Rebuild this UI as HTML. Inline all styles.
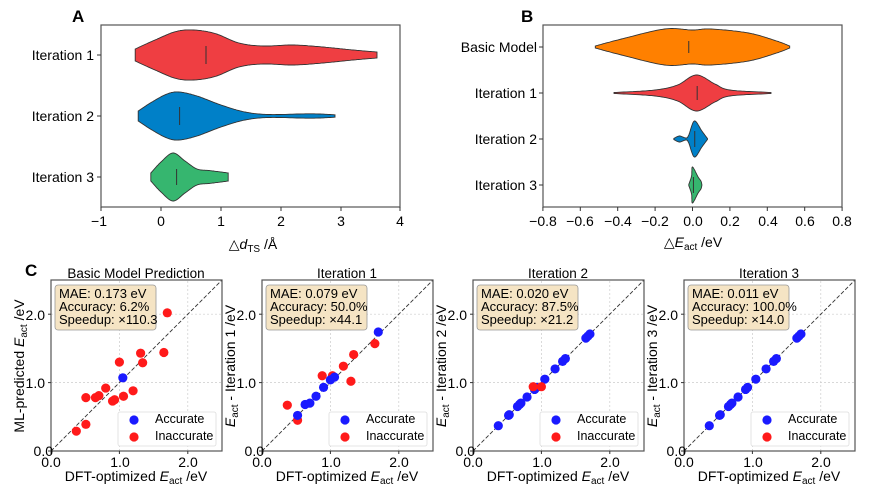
<!DOCTYPE html>
<html><head><meta charset="utf-8"><style>
html,body{margin:0;padding:0;background:#fff;}
svg{display:block;font-family:"Liberation Sans",Arial,sans-serif;}
</style></head><body>
<svg id="s" width="879" height="501" viewBox="0 0 879 501" xmlns="http://www.w3.org/2000/svg">
<g id="shapes"></g>
<rect x="101" y="25" width="299" height="182" fill="none" stroke="#555" stroke-width="1.2"/>
<text x="72" y="22" font-size="17" font-weight="bold">A</text>
<g font-size="14" text-anchor="end">
<text x="94" y="60">Iteration 1</text>
<text x="94" y="121">Iteration 2</text>
<text x="94" y="182">Iteration 3</text>
</g>
<g stroke="#333"><line x1="97" y1="55" x2="101" y2="55"/><line x1="97" y1="116" x2="101" y2="116"/><line x1="97" y1="177" x2="101" y2="177"/>
<line x1="101" y1="207" x2="101" y2="211"/><line x1="161" y1="207" x2="161" y2="211"/><line x1="221" y1="207" x2="221" y2="211"/><line x1="281" y1="207" x2="281" y2="211"/><line x1="341" y1="207" x2="341" y2="211"/><line x1="400" y1="207" x2="400" y2="211"/></g>
<g font-size="14" text-anchor="middle">
<text x="99" y="226">−1</text><text x="161" y="226">0</text><text x="221" y="226">1</text><text x="281" y="226">2</text><text x="341" y="226">3</text><text x="400" y="226">4</text>
<text x="253" y="249">△<tspan font-style="italic">d</tspan><tspan font-size="10" dy="3">TS</tspan><tspan dy="-3"> /Å</tspan></text>
</g>
<rect x="543" y="25" width="299" height="182" fill="none" stroke="#555" stroke-width="1.2"/>
<text x="521" y="22" font-size="17" font-weight="bold">B</text>
<g font-size="14" text-anchor="end">
<text x="537" y="52">Basic Model</text>
<text x="537" y="98">Iteration 1</text>
<text x="537" y="144">Iteration 2</text>
<text x="537" y="190">Iteration 3</text>
</g>
<g stroke="#333"><line x1="539" y1="47" x2="543" y2="47"/><line x1="539" y1="93" x2="543" y2="93"/><line x1="539" y1="139" x2="543" y2="139"/><line x1="539" y1="185" x2="543" y2="185"/></g>
<g id="btick" stroke="#333"></g>
<g font-size="14" text-anchor="middle">
<text x="543" y="226">−0.8</text><text x="580" y="226">−0.6</text><text x="618" y="226">−0.4</text><text x="655" y="226">−0.2</text><text x="693" y="226">0.0</text><text x="730" y="226">0.2</text><text x="768" y="226">0.4</text><text x="805" y="226">0.6</text><text x="842" y="226">0.8</text>
<text x="693" y="247">△<tspan font-style="italic">E</tspan><tspan font-size="10" dy="3">act</tspan><tspan dy="-3"> /eV</tspan></text>
</g>
<text x="25" y="276" font-size="17" font-weight="bold">C</text>
<g font-size="13.5" text-anchor="middle">
<text x="136" y="278">Basic Model Prediction</text>
<text x="347" y="278">Iteration 1</text>
<text x="558" y="278">Iteration 2</text>
<text x="769" y="278">Iteration 3</text>
</g>
<g id="cpanels"></g>
<g font-size="14" text-anchor="middle">
<text x="136" y="481">DFT-optimized <tspan font-style="italic">E</tspan><tspan font-size="10" dy="3">act</tspan><tspan dy="-3"> /eV</tspan></text>
<text x="347" y="481">DFT-optimized <tspan font-style="italic">E</tspan><tspan font-size="10" dy="3">act</tspan><tspan dy="-3"> /eV</tspan></text>
<text x="558" y="481">DFT-optimized <tspan font-style="italic">E</tspan><tspan font-size="10" dy="3">act</tspan><tspan dy="-3"> /eV</tspan></text>
<text x="769" y="481">DFT-optimized <tspan font-style="italic">E</tspan><tspan font-size="10" dy="3">act</tspan><tspan dy="-3"> /eV</tspan></text>
</g>
<g font-size="14" text-anchor="middle">
<text transform="translate(24,366) rotate(-90)">ML-predicted <tspan font-style="italic">E</tspan><tspan font-size="10" dy="3">act</tspan><tspan dy="-3"> /eV</tspan></text>
<text transform="translate(235,366) rotate(-90)"><tspan font-style="italic">E</tspan><tspan font-size="10" dy="3">act</tspan><tspan dy="-3"> - Iteration 1 /eV</tspan></text>
<text transform="translate(446,366) rotate(-90)"><tspan font-style="italic">E</tspan><tspan font-size="10" dy="3">act</tspan><tspan dy="-3"> - Iteration 2 /eV</tspan></text>
<text transform="translate(657,366) rotate(-90)"><tspan font-style="italic">E</tspan><tspan font-size="10" dy="3">act</tspan><tspan dy="-3"> - Iteration 3 /eV</tspan></text>
</g>
<g font-size="13">
<g transform="translate(51,0)"><text x="8" y="298">MAE: 0.173 eV</text><text x="8" y="311">Accuracy: 6.2%</text><text x="8" y="324">Speedup: ×110.3</text></g>
<g transform="translate(262,0)"><text x="8" y="298">MAE: 0.079 eV</text><text x="8" y="311">Accuracy: 50.0%</text><text x="8" y="324">Speedup: ×44.1</text></g>
<g transform="translate(473,0)"><text x="8" y="298">MAE: 0.020 eV</text><text x="8" y="311">Accuracy: 87.5%</text><text x="8" y="324">Speedup: ×21.2</text></g>
<g transform="translate(684,0)"><text x="8" y="298">MAE: 0.011 eV</text><text x="8" y="311">Accuracy: 100.0%</text><text x="8" y="324">Speedup: ×14.0</text></g>
</g>
<g font-size="14">
<g transform="translate(51,0)"><text x="-6" y="388" text-anchor="end">1.0</text><text x="-6" y="320" text-anchor="end">2.0</text><text x="2" y="456" text-anchor="end">0.0</text><text x="0" y="467" text-anchor="middle">0.0</text><text x="69" y="467" text-anchor="middle">1.0</text><text x="137" y="467" text-anchor="middle">2.0</text></g>
<g transform="translate(262,0)"><text x="-6" y="388" text-anchor="end">1.0</text><text x="-6" y="320" text-anchor="end">2.0</text><text x="2" y="456" text-anchor="end">0.0</text><text x="0" y="467" text-anchor="middle">0.0</text><text x="69" y="467" text-anchor="middle">1.0</text><text x="137" y="467" text-anchor="middle">2.0</text></g>
<g transform="translate(473,0)"><text x="-6" y="388" text-anchor="end">1.0</text><text x="-6" y="320" text-anchor="end">2.0</text><text x="2" y="456" text-anchor="end">0.0</text><text x="0" y="467" text-anchor="middle">0.0</text><text x="69" y="467" text-anchor="middle">1.0</text><text x="137" y="467" text-anchor="middle">2.0</text></g>
<g transform="translate(684,0)"><text x="-6" y="388" text-anchor="end">1.0</text><text x="-6" y="320" text-anchor="end">2.0</text><text x="2" y="456" text-anchor="end">0.0</text><text x="0" y="467" text-anchor="middle">0.0</text><text x="69" y="467" text-anchor="middle">1.0</text><text x="137" y="467" text-anchor="middle">2.0</text></g>
</g>
<g font-size="12.5">
<g transform="translate(51,0)"><text x="104" y="423">Accurate</text><text x="104" y="440">Inaccurate</text></g>
<g transform="translate(262,0)"><text x="104" y="423">Accurate</text><text x="104" y="440">Inaccurate</text></g>
<g transform="translate(473,0)"><text x="104" y="423">Accurate</text><text x="104" y="440">Inaccurate</text></g>
<g transform="translate(684,0)"><text x="104" y="423">Accurate</text><text x="104" y="440">Inaccurate</text></g>
</g>
</svg>
<script>
var NS="http://www.w3.org/2000/svg";
function el(p,t,a){var e=document.createElementNS(NS,t);for(var k in a)e.setAttribute(k,a[k]);if(p.firstChild&&a._first){p.insertBefore(e,p.firstChild);}else p.appendChild(e);return e;}
var sh=document.getElementById("shapes");
function cr(p0,p1,p2,p3,t){var t2=t*t,t3=t2*t;return 0.5*((2*p1)+(-p0+p2)*t+(2*p0-5*p1+4*p2-p3)*t2+(-p0+3*p1-3*p2+p3)*t3);}
function sample(prof){var n=prof.length,out=[];for(var i=0;i<n-1;i++){var a=prof[Math.max(i-1,0)],b=prof[i],c=prof[i+1],d=prof[Math.min(i+2,n-1)];
for(var s=0;s<20;s++){var t=s/20;out.push([cr(a[0],b[0],c[0],d[0],t),Math.max(0.3,cr(a[1],b[1],c[1],d[1],t))]);}}out.push(prof[n-1]);return out;}
function violin(prof,cy,x0,sc,fill){var pts=sample(prof),top=[],bot=[];
pts.forEach(function(p){var px=x0+p[0]*sc;top.push(px.toFixed(1)+","+(cy-p[1]).toFixed(1));bot.unshift(px.toFixed(1)+","+(cy+p[1]).toFixed(1));});
el(sh,"path",{d:"M"+top.join("L")+"L"+bot.join("L")+"Z",fill:fill,stroke:"#333","stroke-width":"0.9"});}
function med(x,cy,h){el(sh,"line",{x1:x,x2:x,y1:cy-h,y2:cy+h,stroke:"#333","stroke-width":"1"});}
violin([[-0.43,6],[-0.1,15],[0.25,23.5],[0.55,25],[0.9,21.5],[1.3,12],[1.7,9],[2.2,10],[2.7,8],[3.2,5],[3.6,3]],55,161,60,"#ef3e42");
med(161+0.75*60,55,9);
violin([[-0.38,5],[-0.15,14],[0.1,22],[0.3,24],[0.6,20],[1.0,11],[1.4,4],[1.8,1.5],[2.5,2.2],[2.9,1.2]],116,161,60,"#0080c8");
med(161+0.31*60,116,9);
violin([[-0.17,4],[0,15],[0.2,24],[0.4,16],[0.6,8],[0.8,6.5],[1.0,5],[1.12,4]],177,161,60,"#36b66f");
med(161+0.26*60,177,8);
var B0=692.5,BS=187;
violin([[-0.52,1],[-0.38,8],[-0.15,18],[0,17],[0.1,18],[0.3,14],[0.45,6],[0.52,1]],47,B0,BS,"#ff8000");
med(B0-0.02*BS,47,6);
violin([[-0.42,0.5],[-0.2,3],[-0.08,8],[0.02,18],[0.12,9],[0.2,3],[0.42,0.5]],93,B0,BS,"#ef3e42");
med(B0+0.025*BS,93,7);
violin([[-0.1,0.5],[-0.07,3],[-0.035,1],[-0.02,4],[0.01,18],[0.05,8],[0.08,0.5]],139,B0,BS,"#0080c8");
med(B0+0.012*BS,139,8);
violin([[-0.02,0.5],[-0.005,9],[0.0,18],[0.03,8],[0.045,4],[0.05,0.5]],185,B0,BS,"#36b66f");
med(B0+0.005*BS,185,8);
var bt=document.getElementById("btick");
for(var i=-4;i<=4;i++){var x=B0+i*0.2*BS;el(bt,"line",{x1:x,x2:x,y1:207,y2:211});}
var cp=document.getElementById("cpanels");
var P=[[[0.37,0.29,0],[0.51,0.39,0],[0.51,0.78,0],[0.65,0.78,0],[0.7,0.81,0],[0.8,0.92,0],[0.9,0.73,0],[0.93,0.75,0],[1.0,1.3,0],[1.06,0.8,0],[1.2,0.88,0],[1.31,1.43,0],[1.34,1.29,0],[1.65,1.44,0],[1.7,2.02,0],[1.05,1.07,1]],
[[0.37,0.67,0],[0.52,0.45,0],[0.88,1.1,0],[1.03,1.1,0],[1.19,1.24,0],[1.3,1.02,0],[1.34,1.41,0],[1.65,1.57,0],[0.52,0.52,1],[0.63,0.68,1],[0.7,0.7,1],[0.79,0.8,1],[0.9,0.93,1],[1.0,1.04,1],[1.06,1.08,1],[1.7,1.74,1]],
[],[]];
var dx=[0.37,0.52,0.53,0.65,0.68,0.7,0.79,0.9,0.93,1.05,1.2,1.31,1.35,1.65,1.68,1.71];
dx.forEach(function(v){P[2].push([v,v,1]);P[3].push([v,v,1]);});
P[2].push([0.88,0.94,0]);P[2].push([1.0,0.94,0]);
var OX=[51,262,473,684];
for(var k=0;k<4;k++){var g=el(cp,"g",{transform:"translate("+OX[k]+",451)"});var s=68.4;
for(var j=1;j<=2;j++){el(g,"line",{x1:j*s,x2:j*s,y1:0,y2:-171,stroke:"#ccc","stroke-dasharray":"2,2","stroke-width":"0.7"});el(g,"line",{x1:0,x2:171,y1:-j*s,y2:-j*s,stroke:"#ccc","stroke-dasharray":"2,2","stroke-width":"0.7"});}
el(g,"line",{x1:0,y1:0,x2:171,y2:-171,stroke:"#333","stroke-dasharray":"4,2","stroke-width":"0.9"});
P[k].forEach(function(p){el(g,"circle",{cx:p[0]*s,cy:-p[1]*s,r:4.6,fill:p[2]?"#1a1aff":"#ff1a1a"});});
el(g,"rect",{x:0,y:-171,width:171,height:171,fill:"none",stroke:"#555","stroke-width":"1.2"});
[0,1,2].forEach(function(j){el(g,"line",{x1:j*s,x2:j*s,y1:0,y2:3,stroke:"#333"});el(g,"line",{x1:0,x2:-3,y1:-j*s,y2:-j*s,stroke:"#333"});});
el(g,"rect",{x:4,y:-166,width:101,height:45,rx:3,fill:"#f5e4c4",stroke:"#999","stroke-width":"0.8"});
el(g,"rect",{x:67,y:-39,width:98,height:34,rx:2,fill:"#fff",stroke:"#ddd","stroke-width":"0.8"});
el(g,"circle",{cx:83,cy:-31,r:4.6,fill:"#1a1aff"});el(g,"circle",{cx:83,cy:-14,r:4.6,fill:"#ff1a1a"});
}
</script>
</body></html>
